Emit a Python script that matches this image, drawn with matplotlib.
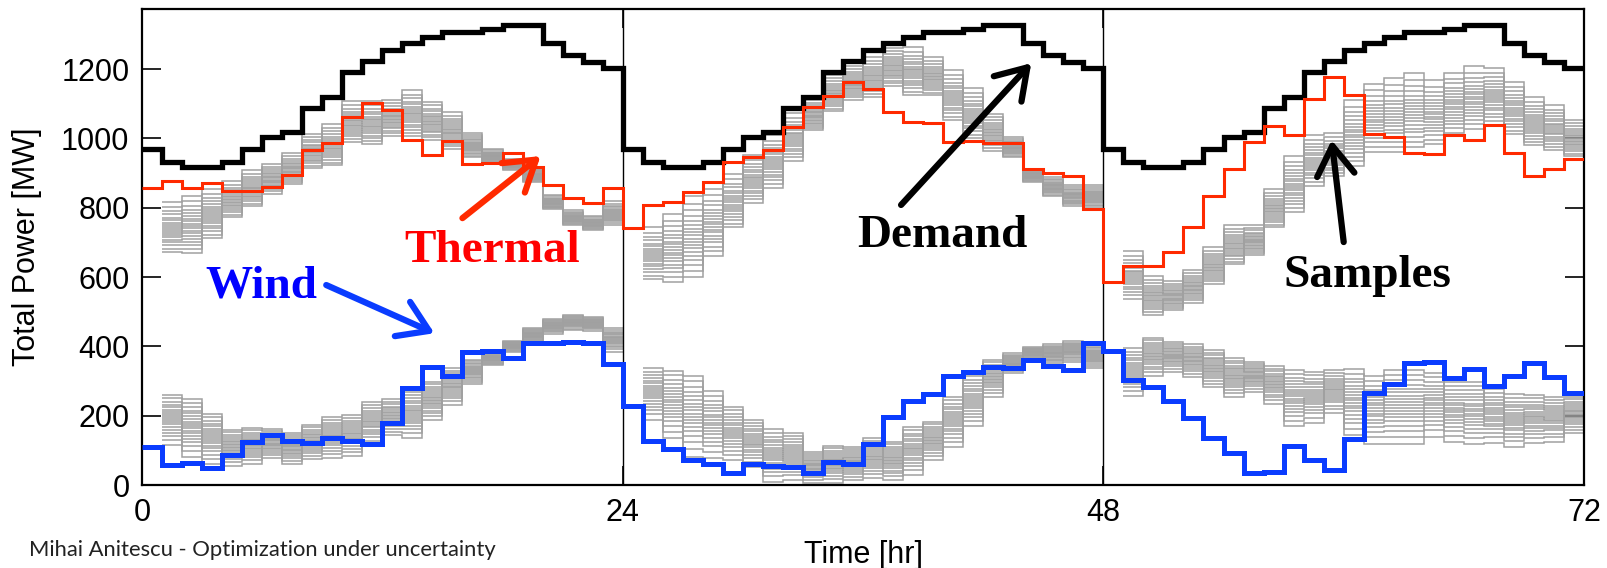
import numpy as np
import matplotlib
matplotlib.use('Agg')
import matplotlib.pyplot as plt

plt.rcParams['font.family'] = ['Liberation Sans', 'DejaVu Sans']

# demand profile of one day (MW), same on the three days
DEMAND_DAY = [969, 932, 917, 917, 932, 969, 1004, 1019, 1087, 1119, 1191, 1223,
              1255, 1276, 1293, 1307, 1307, 1315, 1326, 1326, 1274, 1240, 1221, 1203]

THERMAL = [856, 877, 856, 871, 848, 848, 860, 894, 966, 986, 1062, 1103,
           1082, 995, 952, 993, 925, 929, 957, 918, 865, 827, 813, 856,
           741, 808, 816, 845, 874, 932, 946, 966, 1033, 1090, 1122, 1163,
           1142, 1076, 1047, 1044, 989, 992, 986, 986, 911, 900, 891, 796,
           586, 632, 632, 673, 743, 834, 913, 990, 1036, 1010, 1115, 1176,
           1124, 1012, 1005, 958, 954, 1010, 995, 1038, 958, 891, 913, 940]

WIND = [110, 58, 63, 49, 87, 124, 144, 127, 121, 136, 127, 118,
        179, 280, 340, 315, 384, 387, 366, 409, 409, 413, 409, 349,
        228, 127, 104, 72, 61, 35, 60, 55, 51, 35, 66, 62,
        118, 197, 243, 262, 315, 326, 340, 338, 361, 344, 332, 409,
        386, 303, 283, 243, 193, 136, 92, 35, 38, 112, 72, 43,
        133, 265, 291, 352, 355, 309, 335, 286, 314, 352, 312, 265]

# envelope of the wind samples, hours 1..23 of each day
WIND_SAMPLE_LO = [
    [115, 82, 62, 56, 61, 77, 61, 74, 77, 84, 115, 144, 137, 187, 231, 291, 346, 385, 411, 437, 447, 445, 385],
    [189, 135, 82, 77, 72, 53, 10, 14, 7, 7, 14, 19, 14, 29, 72, 111, 170, 255, 322, 361, 351, 356, 337],
    [257, 314, 327, 311, 282, 255, 269, 234, 170, 180, 207, 144, 118, 118, 118, 139, 125, 118, 122, 111, 122, 125, 149],
]
WIND_SAMPLE_HI = [
    [261, 248, 205, 159, 165, 163, 151, 173, 197, 202, 240, 247, 269, 298, 337, 362, 385, 416, 452, 479, 490, 485, 452],
    [338, 330, 316, 271, 226, 189, 161, 151, 96, 113, 111, 135, 125, 168, 183, 255, 314, 361, 380, 399, 406, 415, 404],
    [394, 425, 413, 406, 389, 367, 356, 343, 332, 327, 332, 334, 314, 332, 332, 324, 298, 298, 276, 262, 260, 255, 255],
]
# where each sample sits inside the envelope
SAMPLE_LEVELS = [0.0, 0.1, 0.18, 0.25, 0.31, 0.36, 0.41, 0.45, 0.49, 0.53,
                 0.57, 0.61, 0.65, 0.7, 0.75, 0.8, 0.86, 0.93, 1.0]

GREY = '#a0a0a0'
RED = '#ff2a00'
BLUE = '#0a3cff'

fig = plt.figure(figsize=(16.08, 5.68), dpi=100)
ax = fig.add_axes([0.0883, 0.146, 0.8968, 0.838])

demand = np.array(DEMAND_DAY * 3)
edges = np.arange(73)

# samples: thermal sample = demand - wind sample
for d in range(3):
    e = np.arange(24 * d + 1, 24 * d + 25)
    lo = np.array(WIND_SAMPLE_LO[d])
    hi = np.array(WIND_SAMPLE_HI[d])
    dem = np.array(DEMAND_DAY[1:])
    for f in SAMPLE_LEVELS:
        w = lo + f * (hi - lo)
        ax.stairs(w, e, baseline=None, color=GREY, lw=1.1, zorder=2)
        ax.stairs(dem - w, e, baseline=None, color=GREY, lw=1.1, zorder=2)

ax.stairs(demand, edges, baseline=None, color='black', lw=3.8, zorder=4)
ax.stairs(THERMAL, edges, baseline=None, color=RED, lw=2.2, zorder=4)
ax.stairs(WIND, edges, baseline=None, color=BLUE, lw=3.6, zorder=4)

for xv in (24, 48):
    ax.axvline(xv, color='black', lw=1.0, zorder=3)

ax.set_xlim(0, 72)
ax.set_ylim(0, 1373)
ax.set_xticks([0, 24, 48, 72])
ax.set_yticks(range(0, 1201, 200))
ax.tick_params(direction='in', length=14, width=1.2, top=True, right=True,
               labelsize=22, pad=9)
for s in ax.spines.values():
    s.set_linewidth(1.6)

ax.set_xlabel('Time [hr]', fontsize=22)
ax.xaxis.set_label_coords(0.5, -0.115)
ax.set_ylabel('Total Power [MW]', fontsize=22)
ax.yaxis.set_label_coords(-0.069, 0.5)

# annotations
serif = ['Liberation Serif', 'DejaVu Serif']
ax.text(13.1, 643, 'Thermal', color='#ff0000', fontsize=34, fontweight='bold',
        family=serif, ha='left', va='baseline', zorder=5)
ax.text(3.14, 542, 'Wind', color='#0000ff', fontsize=34, fontweight='bold',
        family=serif, ha='left', va='baseline', zorder=5)
ax.text(35.7, 686, 'Demand', color='black', fontsize=34, fontweight='bold',
        family=serif, ha='left', va='baseline', zorder=5)
ax.text(57.0, 571, 'Samples', color='black', fontsize=34, fontweight='bold',
        family=serif, ha='left', va='baseline', zorder=5)

arrow = dict(arrowstyle='->,head_length=0.7,head_width=0.45', lw=4.5,
             mutation_scale=30, shrinkA=0, shrinkB=0)
ax.annotate('', xy=(19.9, 949), xytext=(16.0, 770),
            arrowprops=dict(arrow, color=RED), zorder=5)
ax.annotate('', xy=(14.6, 438), xytext=(9.2, 577),
            arrowprops=dict(arrow, color=BLUE), zorder=5)
ax.annotate('', xy=(44.4, 1217), xytext=(37.9, 808),
            arrowprops=dict(arrow, color='black'), zorder=5)
ax.annotate('', xy=(59.4, 995), xytext=(60.0, 701),
            arrowprops=dict(arrow, color='black'), zorder=5)

fig.text(0.018, 0.032, 'Mihai Anitescu - Optimization under uncertainty',
         fontsize=15.8, family=['Lato', 'DejaVu Sans'], ha='left', va='center',
         color='#222222')

fig.savefig('out.png', dpi=100)
